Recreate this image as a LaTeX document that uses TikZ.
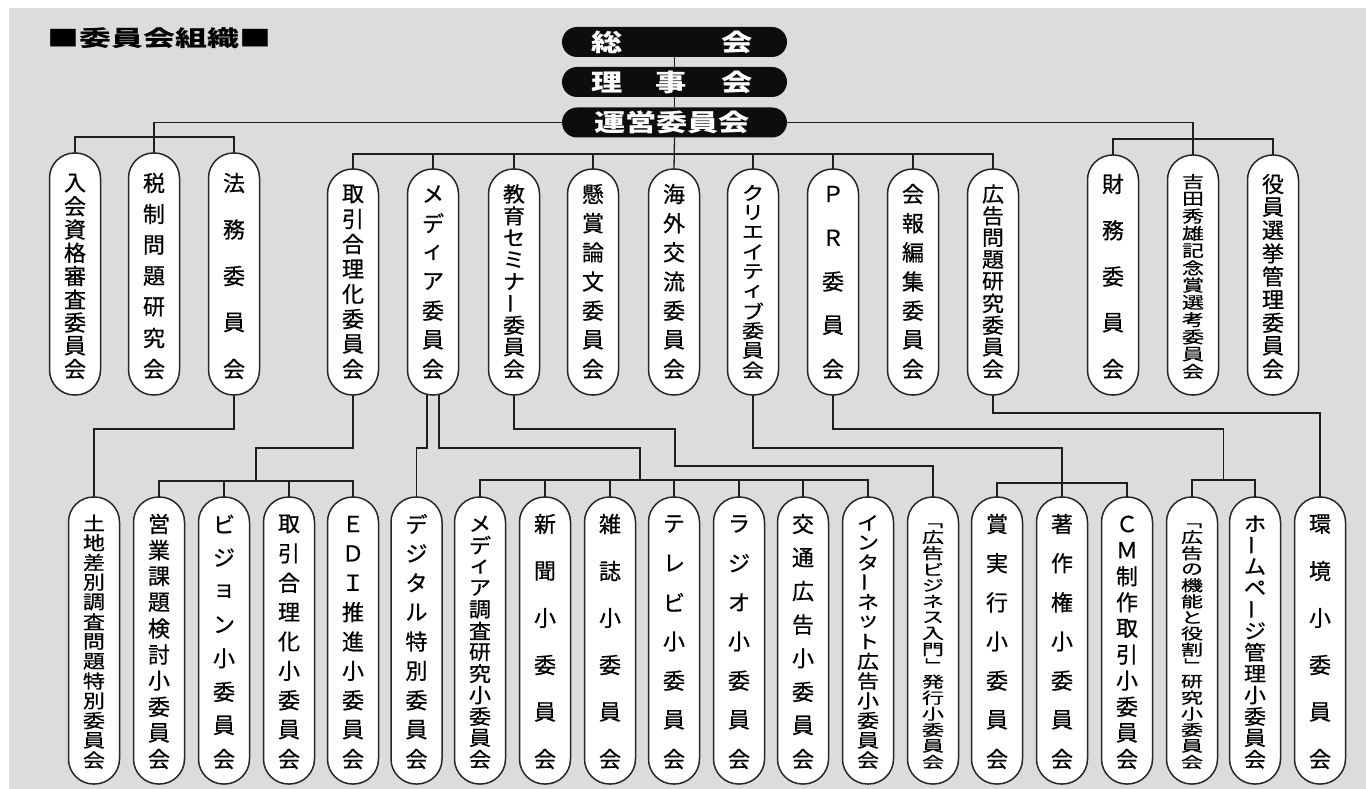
\documentclass[tikz,border=0pt]{standalone}
\usepackage{fontspec}
\usepackage{graphicx}
\usetikzlibrary{calc}
\newfontfamily\jp{Noto Sans CJK JP}
\newfontfamily\jpm[FakeBold=0.6]{Noto Sans CJK JP}
\definecolor{bg}{HTML}{DCDCDC}
\definecolor{ln}{HTML}{1E1E1E}
\newcommand\vchoon{\rotatebox{90}{ー}}
\newcommand\vlq{\rotatebox{-90}{「}}
\newcommand\vrq{\rotatebox{-90}{」}}
\newcommand\wstretch[1]{\scalebox{1.3}[1]{#1}}
\tikzset{
  conn/.style={draw=ln, line width=1.3pt},
  pill/.style={draw=black!85, line width=1.5pt, fill=white, rounded corners=25pt,
               minimum width=51pt, inner sep=0pt, outer sep=0pt},
  bpill/.style={fill=black!95, rounded corners=15pt, minimum width=225pt,
               minimum height=30pt, inner sep=0pt, outer sep=0pt},
  chr/.style={font=\jpm\fontsize{22}{22}\selectfont, inner sep=0pt, text=black},
  wtxt/.style={font=\jp\bfseries\fontsize{24}{24}\selectfont, inner sep=0pt, text=white},
}
% #1 name, #2 x, #3 text top, #4 text bottom, #5 list of characters
\newcommand\vlabel[5]{%
  \foreach \c [count=\k] in {#5} {\xdef\vlN{\k}}%
  \pgfmathsetmacro\vlL{(#4)-(#3)}%
  \pgfmathsetmacro\vlH{min(22,\vlL/\vlN)}%
  \pgfmathsetmacro\vlS{min(1,0.95*\vlL/\vlN/22)}%
  \pgfmathsetmacro\vlG{(\vlL-\vlH)/max(1,\vlN-1)}%
  \foreach \c [count=\k] in {#5} {%
    \pgfmathsetmacro\vlY{(#3)+\vlH/2+(\k-1)*\vlG}%
    \node[chr] (#1-\k) at (#2,\vlY) {\scalebox{1}[\vlS]{\c}};
  }%
}
% #1 name, #2 x, #3 box top, #4 box bottom, #5 text inset top, #6 text inset bottom, #7 list
\newcommand\vpill[7]{%
  \node[pill, minimum height={(#4)-(#3)}] (#1) at (#2,{((#3)+(#4))/2}) {};
  \vlabel{#1}{#2}{(#3)+(#5)}{(#4)-(#6)}{#7}%
}
\begin{document}
\begin{tikzpicture}[x=1pt,y=-1pt]
\useasboundingbox (0,0) rectangle (1366,789);
\fill[white] (0,0) rectangle (1366,789);
\fill[bg] (9,8) rectangle (1366,789);

% title
\node[font=\jp\bfseries\fontsize{22}{22}\selectfont, inner sep=0pt] (title) at (159.5,38)
  {\scalebox{1.45}[1]{■委員会組織■}};

% top black pills
\node[bpill] (sokai) at (674.5,42) {};
\node[bpill] (rijikai) at (674.5,82) {};
\node[bpill] (unei) at (674.5,122.5) {};

% anchor-only copies of the boxes, so that connectors can be drawn first
\foreach \nm/\xx/\tp in {t1/75/153,t2/154/153,t3/234/153,
  t4/353/169,t5/433/169,t6/514/169,t7/593/169,t8/674/169,t9/753/169,t10/833/169,t11/913/169,t12/993/169,
  t13/1113/155,t14/1193/155,t15/1273/155}{
  \node[pill, draw=none, fill=none, minimum height={395-\tp}] (\nm) at (\xx,{(\tp+395)/2}) {};
}
\foreach \nm/\xx in {b1/94,b2/159,b3/224,b4/289,b5/353,b6/416.5,b7/480,b8/545,b9/610,b10/674,
  b11/739,b12/803,b13/868,b14/933,b15/997,b16/1062,b17/1127,b18/1192,b19/1255,b20/1320}{
  \node[pill, draw=none, fill=none, minimum height=287] (\nm) at (\xx,640.5) {};
}

\draw[conn] (sokai.south) -- (rijikai.north);
\draw[conn] (rijikai.south) -- (unei.north);
\draw[conn] (unei.south) -- (t8.north);
\draw[conn] (unei.west) -| (t2.north);
\draw[conn] (t1.north) -- ++(0,-16) -| (t3.north);
\draw[conn] (unei.east) -| (t14.north);
\draw[conn] (t13.north) -- ++(0,-16) -| (t15.north);
\draw[conn] (t4.north) -- ++(0,-15) -| (t12.north);
\foreach \nm in {t5,t6,t7,t9,t10,t11}{ \draw[conn] (\nm.north) -- ++(0,-15); }

% lower connectors
\coordinate (m1) at ($(b2.north)!.5!(b5.north)+(0,-16)$);
\coordinate (j2) at (640,480);
\coordinate (k1) at (675,466);
\coordinate (m3) at ($(b18.north)!.5!(b19.north)+(0,-17)$);
\draw[conn] (t3.south) -- ++(0,34) -| (b1.north);
\draw[conn] (t4.south) -- ++(0,53) -| (m1);
\draw[conn] (b2.north) -- ++(0,-16) -| (b5.north);
\foreach \nm in {b3,b4}{ \draw[conn] (\nm.north) -- ++(0,-16); }
\draw[conn] ([xshift=-6pt]t5.south) -- ++(0,53) -| (b6.north);
\draw[conn] ([xshift=6pt]t5.south) -- ++(0,53) -| (j2);
\draw[conn] (b7.north) -- ++(0,-17) -| (b13.north);
\foreach \nm in {b8,b9,b10,b11,b12}{ \draw[conn] (\nm.north) -- ++(0,-17); }
\draw[conn] (t6.south) -- ++(0,34) -| (k1) -| (b14.north);
\draw[conn] (t9.south) -- ++(0,53) -| (b16.north);
\draw[conn] (b15.north) -- ++(0,-14) -| (b17.north);
\draw[conn] (t10.south) -- ++(0,34) -| (m3);
\draw[conn] (b18.north) -- ++(0,-17) -| (b19.north);
\draw[conn] (t12.south) -- ++(0,18) -| (b20.north);

% ---------- visible boxes with text ----------
\vpill{t1}{75}{153}{395}{19}{15}{入,会,資,格,審,査,委,員,会}
\vpill{t2}{154}{153}{395}{19}{15}{税,制,問,題,研,究,会}
\vpill{t3}{234}{153}{395}{19}{15}{法,務,委,員,会}
\vpill{t4}{353}{169}{395}{14}{15}{取,引,合,理,化,委,員,会}
\vpill{t5}{433}{169}{395}{14}{15}{メ,デ,ィ,ア,委,員,会}
\vpill{t6}{514}{169}{395}{14}{15}{教,育,セ,ミ,ナ,\vchoon,委,員,会}
\vpill{t7}{593}{169}{395}{14}{15}{懸,賞,論,文,委,員,会}
\vpill{t8}{674}{169}{395}{14}{15}{海,外,交,流,委,員,会}
\vpill{t9}{753}{169}{395}{14}{15}{ク,リ,エ,イ,テ,ィ,ブ,委,員,会}
\vpill{t10}{833}{169}{395}{14}{15}{Ｐ,Ｒ,委,員,会}
\vpill{t11}{913}{169}{395}{14}{15}{会,報,編,集,委,員,会}
\vpill{t12}{993}{169}{395}{14}{15}{広,告,問,題,研,究,委,員,会}
\vpill{t13}{1113}{155}{395}{18}{15}{財,務,委,員,会}
\vpill{t14}{1193}{155}{395}{18}{15}{吉,田,秀,雄,記,念,賞,選,考,委,員,会}
\vpill{t15}{1273}{155}{395}{18}{15}{役,員,選,挙,管,理,委,員,会}

\vpill{b1}{94}{497}{784}{16}{14}{土,地,差,別,調,査,問,題,特,別,委,員,会}
\vpill{b2}{159}{497}{784}{16}{14}{営,業,課,題,検,討,小,委,員,会}
\vpill{b3}{224}{497}{784}{16}{14}{ビ,ジ,ョ,ン,小,委,員,会}
\vpill{b4}{289}{497}{784}{16}{14}{取,引,合,理,化,小,委,員,会}
\vpill{b5}{353}{497}{784}{16}{14}{Ｅ,Ｄ,Ｉ,推,進,小,委,員,会}
\vpill{b6}{416.5}{497}{784}{16}{14}{デ,ジ,タ,ル,特,別,委,員,会}
\vpill{b7}{480}{497}{784}{16}{14}{メ,デ,ィ,ア,調,査,研,究,小,委,員,会}
\vpill{b8}{545}{497}{784}{16}{14}{新,聞,小,委,員,会}
\vpill{b9}{610}{497}{784}{16}{14}{雑,誌,小,委,員,会}
\vpill{b10}{674}{497}{784}{16}{14}{テ,レ,ビ,小,委,員,会}
\vpill{b11}{739}{497}{784}{16}{14}{ラ,ジ,オ,小,委,員,会}
\vpill{b12}{803}{497}{784}{16}{14}{交,通,広,告,小,委,員,会}
\vpill{b13}{868}{497}{784}{16}{14}{イ,ン,タ,\vchoon,ネ,ッ,ト,広,告,小,委,員,会}
\vpill{b14}{933}{497}{784}{16}{14}{\vlq,広,告,ビ,ジ,ネ,ス,入,門,\vrq,発,行,小,委,員,会}
\vpill{b15}{997}{497}{784}{16}{14}{賞,実,行,小,委,員,会}
\vpill{b16}{1062}{497}{784}{16}{14}{著,作,権,小,委,員,会}
\vpill{b17}{1127}{497}{784}{16}{14}{Ｃ,Ｍ,制,作,取,引,小,委,員,会}
\vpill{b18}{1192}{497}{784}{16}{14}{\vlq,広,告,の,機,能,と,役,割,\vrq,研,究,小,委,員,会}
\vpill{b19}{1255}{497}{784}{16}{14}{ホ,\vchoon,ム,ペ,\vchoon,ジ,管,理,小,委,員,会}
\vpill{b20}{1320}{497}{784}{16}{14}{環,境,小,委,員,会}

% texts in black pills
\node[wtxt] (sokai-1) at (607,42) {\wstretch{総}};
\node[wtxt] (sokai-2) at (737,42) {\wstretch{会}};
\node[wtxt] (rijikai-1) at (607,82) {\wstretch{理}};
\node[wtxt] (rijikai-2) at (671,82) {\wstretch{事}};
\node[wtxt] (rijikai-3) at (737,82) {\wstretch{会}};
\node[wtxt] (unei-1) at (672,122.5) {\wstretch{運営委員会}};
\end{tikzpicture}
\end{document}
